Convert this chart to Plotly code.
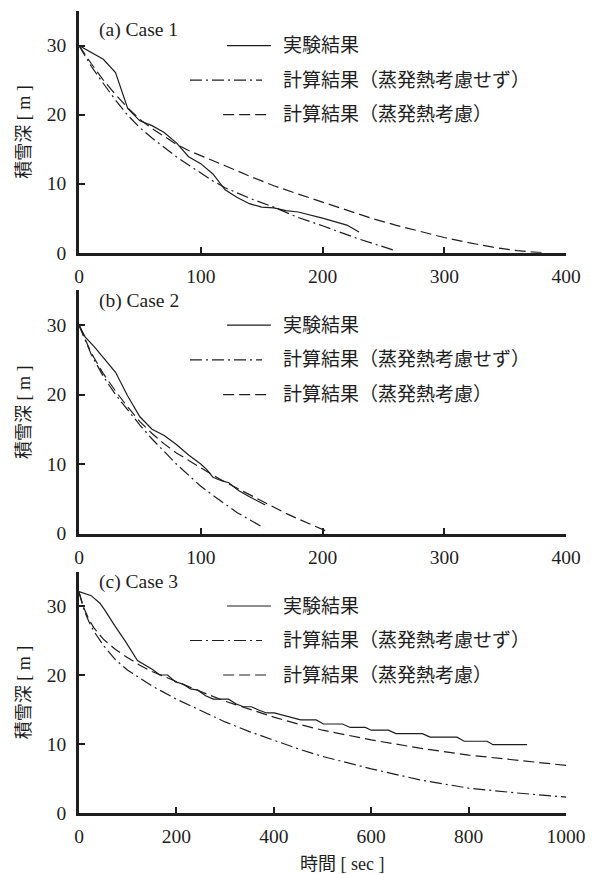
import plotly.graph_objects as go

# ---------------- data ----------------
# (a) Case 1
t_exp_a = [0, 10, 20, 30, 40, 50, 60, 70, 80, 90, 100, 110, 120, 130, 140, 150, 160, 170, 180, 200, 220, 230]
h_exp_a = [30, 29.0, 28.0, 26.1, 20.9, 19.1, 18.4, 17.4, 15.9, 13.9, 12.9, 11.4, 9.1, 8.0, 7.1, 6.6, 6.5, 6.1, 5.9, 5.0, 4.0, 3.0]
t_calc_a = [0, 10, 20, 30, 40, 50, 60, 70, 80, 90, 100, 110, 120, 140, 160, 180, 200, 228, 258]
h_calc_a = [30, 27.0, 24.5, 22.1, 19.9, 18.1, 16.6, 15.2, 13.9, 12.7, 11.5, 10.4, 9.4, 7.9, 6.6, 5.1, 3.9, 2.1, 0.4]
t_evap_a = [0, 10, 20, 30, 40, 50, 60, 70, 80, 90, 100, 120, 140, 160, 180, 200, 220, 240, 260, 280, 300, 320, 340, 360, 380]
h_evap_a = [30, 27.4, 25.0, 22.9, 21.0, 19.3, 18.0, 16.8, 15.7, 14.8, 14.1, 12.6, 11.1, 9.7, 8.5, 7.3, 6.1, 5.0, 4.0, 3.1, 2.2, 1.45, 0.8, 0.3, 0.0]

# (b) Case 2
t_exp_b = [0, 5, 13, 20, 30, 40, 50, 60, 70, 80, 90, 100, 105, 110, 117, 123, 131, 140, 153]
h_exp_b = [30, 28.3, 26.8, 25.3, 23.2, 19.8, 16.8, 15.0, 14.1, 12.8, 11.3, 10.0, 9.2, 8.1, 7.6, 7.3, 6.2, 5.3, 4.1]
t_calc_b = [0, 10, 20, 30, 40, 50, 60, 70, 80, 90, 100, 110, 120, 130, 140, 152]
h_calc_b = [30, 25.8, 22.6, 20.0, 17.8, 15.6, 13.6, 11.8, 10.0, 8.4, 6.8, 5.5, 4.2, 3.0, 2.0, 0.8]
t_evap_b = [0, 10, 20, 30, 40, 50, 60, 70, 80, 90, 100, 110, 120, 130, 140, 150, 160, 170, 180, 190, 205]
h_evap_b = [30, 26.0, 23.0, 20.5, 18.2, 16.1, 14.4, 12.9, 11.6, 10.5, 9.5, 8.4, 7.4, 6.5, 5.5, 4.6, 3.8, 2.9, 2.1, 1.3, 0.2]

# (c) Case 3
t_exp_c = [0, 25, 43, 53, 73, 96, 120, 151, 166, 182, 198, 213, 229, 244, 260, 276, 307, 323, 338, 354,
           370, 385, 401, 432, 455, 487, 502, 541, 557, 588, 600, 635, 651, 705, 721, 776, 791, 838, 850, 920]
h_exp_c = [32.1, 31.5, 30.4, 29.4, 27.2, 24.8, 22.1, 20.8, 20.0, 20.0, 19.0, 18.7, 18.0, 17.8, 17.0, 16.5, 16.5, 15.8, 15.4, 15.4,
           14.9, 14.5, 14.5, 13.9, 13.5, 13.5, 12.9, 12.9, 12.4, 12.4, 12.0, 12.0, 11.5, 11.5, 11.0, 11.0, 10.4, 10.4, 9.9, 9.9]
t_calc_c = [0, 5, 10, 20, 30, 50, 75, 100, 125, 150, 200, 250, 300, 350, 400, 450, 500, 600, 700, 800, 900, 1000]
h_calc_c = [32, 30.8, 29.5, 27.8, 26.4, 24.3, 22.2, 20.7, 19.5, 18.4, 16.5, 14.8, 13.2, 11.8, 10.5, 9.3, 8.2, 6.4, 4.8, 3.6, 2.9, 2.3]
t_evap_c = [0, 5, 10, 20, 30, 50, 75, 100, 125, 150, 200, 250, 300, 350, 400, 450, 500, 600, 700, 800, 900, 1000]
h_evap_c = [32, 30.9, 29.7, 28.1, 26.9, 25.2, 23.7, 22.5, 21.4, 20.5, 19.0, 17.6, 16.2, 15.0, 13.9, 12.9, 12.0, 10.6, 9.4, 8.4, 7.6, 6.9]

series_names = ["実験結果", "計算結果（蒸発熱考慮せず）", "計算結果（蒸発熱考慮）"]
panel_titles = ["(a) Case 1", "(b) Case 2", "(c) Case 3"]
x_max = [400, 400, 1000]
x_dtick = [100, 100, 200]
y_ticks = [0, 10, 20, 30]
y_title = "積雪深 [ m ]"
x_title = "時間 [ sec ]"

panels = [
    [(t_exp_a, h_exp_a), (t_calc_a, h_calc_a), (t_evap_a, h_evap_a)],
    [(t_exp_b, h_exp_b), (t_calc_b, h_calc_b), (t_evap_b, h_evap_b)],
    [(t_exp_c, h_exp_c), (t_calc_c, h_calc_c), (t_evap_c, h_evap_c)],
]

# ---------------- styling ----------------
INK = "#1e1e1e"
FONT = "Liberation Serif, Noto Sans CJK JP, serif"
dashes = ["solid", "12px,4px,2px,4px", "11px,5px"]
domains = [[0.6986, 1.0], [0.3485, 0.6517], [0.0, 0.3011]]
title_y = [32.3, 33.4, 33.5]
legend_rows_y = [30, 25, 20]
legend_line_x = [(0.304, 0.394), (0.228, 0.376), (0.296, 0.386)]

fig = go.Figure()
shapes = []
annotations = []
layout_axes = {}

for i, series in enumerate(panels):
    n = "" if i == 0 else str(i + 1)
    xa, ya = "x" + n, "y" + n
    for (t, h), dash, name in zip(series, dashes, series_names):
        fig.add_trace(go.Scatter(x=t, y=h, mode="lines", name=name, showlegend=False,
                                 line=dict(color=INK, width=1.2, dash=dash),
                                 xaxis=xa, yaxis=ya))
    layout_axes["xaxis" + n] = dict(
        domain=[0, 1], anchor=ya, range=[0, x_max[i]], dtick=x_dtick[i], tick0=0,
        showgrid=False, zeroline=False, showline=True, linecolor=INK, linewidth=2.5,
        ticks="inside", ticklen=6, tickwidth=2, tickcolor=INK,
        tickfont=dict(family=FONT, size=19.5, color=INK), ticklabelstandoff=4)
    layout_axes["yaxis" + n] = dict(
        domain=domains[i], anchor=xa, range=[0, 35], tickvals=y_ticks,
        showgrid=False, zeroline=False, showline=True, linecolor=INK, linewidth=2.5,
        ticks="inside", ticklen=6, tickwidth=2, tickcolor=INK,
        tickfont=dict(family=FONT, size=19.5, color=INK), ticklabelstandoff=6)

    # panel label
    annotations.append(dict(text=panel_titles[i], xref=xa + " domain", yref=ya, x=0.036, y=title_y[i],
                            xanchor="left", yanchor="middle", showarrow=False,
                            font=dict(family=FONT, size=19.5, color=INK)))
    # legend
    for (x0, x1), yv, dash, name in zip(legend_line_x, legend_rows_y, dashes, series_names):
        shapes.append(dict(type="line", xref=xa + " domain", yref=ya, x0=x0, x1=x1, y0=yv, y1=yv,
                           line=dict(color=INK, width=1.2, dash=dash)))
        annotations.append(dict(text=name, xref=xa + " domain", yref=ya, x=0.414, y=yv,
                                xanchor="left", yanchor="middle", showarrow=False,
                                font=dict(family=FONT, size=19, color=INK)))
    # y title
    annotations.append(dict(text=y_title, xref="paper", yref=ya + " domain", x=-0.113, y=0.5,
                            xanchor="center", yanchor="middle", textangle=-90, showarrow=False,
                            font=dict(family=FONT, size=18, color=INK)))

annotations.append(dict(text=x_title, xref="paper", yref="paper", x=0.541, y=-0.0636,
                        xanchor="center", yanchor="middle", showarrow=False,
                        font=dict(family=FONT, size=18, color=INK)))

# the page places the figure 8px in from the top-left corner
fig.update_layout(
    width=589, height=866,
    margin=dict(l=71, r=31, t=3, b=61),
    paper_bgcolor="white", plot_bgcolor="white",
    showlegend=False,
    shapes=shapes, annotations=annotations,
    **layout_axes,
)

fig.write_html("out.html")
